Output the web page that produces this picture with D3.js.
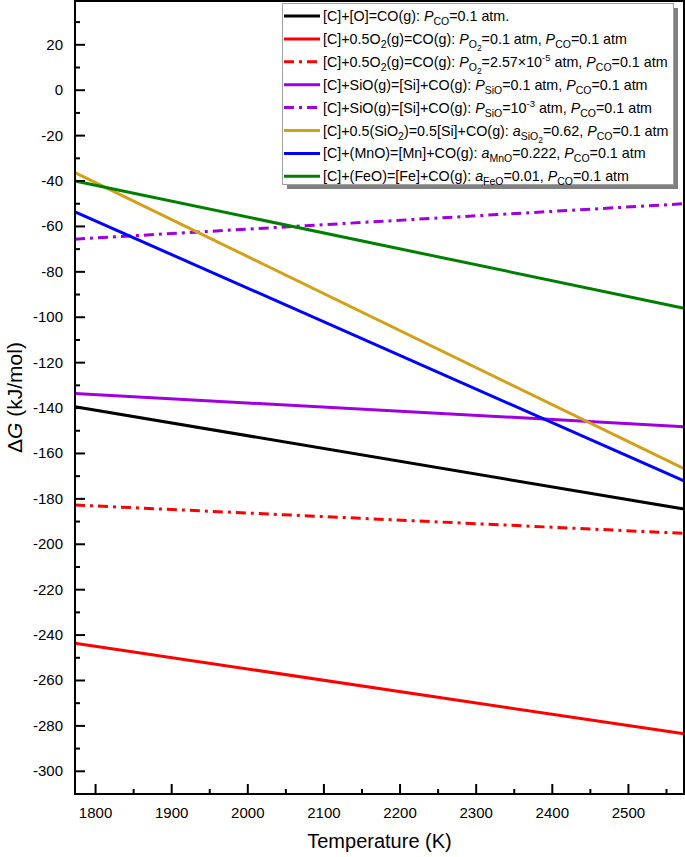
<!DOCTYPE html>
<meta charset="utf-8">
<script src="https://cdnjs.cloudflare.com/ajax/libs/d3/7.8.5/d3.min.js"></script>
<style>
body { margin: 0; background: #fff; }
svg text { font-family: "Liberation Sans", Arial, sans-serif; }
</style>
<body>
<script>

// data (endpoints of each straight line)
var temps = [1773, 2573];
var seriesNames = ["black", "redSolid", "redDash", "purpleSolid", "purpleDash", "gold", "blue", "green"];
var blackVals = [-139.4, -184.5];
var redSolidVals = [-243.6, -283.5];
var redDashVals = [-182.7, -195.2];
var purpleSolidVals = [-133.6, -148.2];
var purpleDashVals = [-65.6, -50.0];
var goldVals = [-36.3, -166.7];
var blueVals = [-53.6, -172.1];
var greenVals = [-40.0, -96.0];

var colors = ["#000000", "#ff0000", "#ff0000", "#a000dc", "#a000dc", "#d4a017", "#0000ff", "#008000"];
var dashed = [false, false, true, false, true, false, false, false];
var allVals = [blackVals, redSolidVals, redDashVals, purpleSolidVals, purpleDashVals, goldVals, blueVals, greenVals];

var xTicks = [1800, 1900, 2000, 2100, 2200, 2300, 2400, 2500];
var yTicks = [-300, -280, -260, -240, -220, -200, -180, -160, -140, -120, -100, -80, -60, -40, -20, 0, 20];

// legend labels: [text, kind] kind: n normal, i italic, s subscript, ss sub-subscript, p superscript
var legendLabels = [
  [["[C]+[O]=CO(g): ", "n"], ["P", "i"], ["CO", "s"], ["=0.1 atm.", "n"]],
  [["[C]+0.5O", "n"], ["2", "s"], ["(g)=CO(g): ", "n"], ["P", "i"], ["O", "s"], ["2", "ss"], ["=0.1 atm, ", "n"], ["P", "i"], ["CO", "s"], ["=0.1 atm", "n"]],
  [["[C]+0.5O", "n"], ["2", "s"], ["(g)=CO(g): ", "n"], ["P", "i"], ["O", "s"], ["2", "ss"], ["=2.57\u00d710", "n"], ["-5", "p"], [" atm, ", "n"], ["P", "i"], ["CO", "s"], ["=0.1 atm", "n"]],
  [["[C]+SiO(g)=[Si]+CO(g): ", "n"], ["P", "i"], ["SiO", "s"], ["=0.1 atm, ", "n"], ["P", "i"], ["CO", "s"], ["=0.1 atm", "n"]],
  [["[C]+SiO(g)=[Si]+CO(g): ", "n"], ["P", "i"], ["SiO", "s"], ["=10", "n"], ["-3", "p"], [" atm, ", "n"], ["P", "i"], ["CO", "s"], ["=0.1 atm", "n"]],
  [["[C]+0.5(SiO", "n"], ["2", "s"], [")=0.5[Si]+CO(g): ", "n"], ["a", "i"], ["SiO", "s"], ["2", "ss"], ["=0.62, ", "n"], ["P", "i"], ["CO", "s"], ["=0.1 atm", "n"]],
  [["[C]+(MnO)=[Mn]+CO(g): ", "n"], ["a", "i"], ["MnO", "s"], ["=0.222, ", "n"], ["P", "i"], ["CO", "s"], ["=0.1 atm", "n"]],
  [["[C]+(FeO)=[Fe]+CO(g): ", "n"], ["a", "i"], ["FeO", "s"], ["=0.01, ", "n"], ["P", "i"], ["CO", "s"], ["=0.1 atm", "n"]]
];

var margin = {top: 1, right: 1, bottom: 63, left: 75};

var svg = d3.select("body").append("svg")
    .attr("width", 685)
    .attr("height", 857);

var g = svg.append("g")
    .attr("transform", "translate(" + margin.left + "," + margin.top + ")");

var x = d3.scaleLinear().domain([1773, 2573]).range([0, 609]);
var y = d3.scaleLinear().domain([-310, 39.3]).range([793, 0]);

// lines
var line = d3.line()
    .x(function(d) { return x(d[0]); })
    .y(function(d) { return y(d[1]); });

allVals.forEach(function(vals, i) {
  g.append("path")
    .datum(temps.map(function(t, j) { return [t, vals[j]]; }))
    .attr("d", line)
    .attr("fill", "none")
    .attr("stroke", colors[i])
    .attr("stroke-width", 3)
    .attr("stroke-dasharray", dashed[i] ? "10,5,3,5" : null);
});

// frame
g.append("rect")
  .attr("x", 0).attr("y", 0)
  .attr("width", 609).attr("height", 793)
  .attr("fill", "none")
  .attr("stroke", "#000")
  .attr("stroke-width", 2);

// x axis ticks (inward)
var xMinor = d3.range(1850, 2573, 100);
g.selectAll(".xminor").data(xMinor).enter().append("line")
  .attr("x1", function(d) { return x(d); }).attr("x2", function(d) { return x(d); })
  .attr("y1", 793).attr("y2", 788)
  .attr("stroke", "#000").attr("stroke-width", 2);
g.selectAll(".xmajor").data(xTicks).enter().append("line")
  .attr("x1", function(d) { return x(d); }).attr("x2", function(d) { return x(d); })
  .attr("y1", 793).attr("y2", 783)
  .attr("stroke", "#000").attr("stroke-width", 2);
g.selectAll(".xlab").data(xTicks).enter().append("text")
  .attr("x", function(d) { return x(d); })
  .attr("y", 817)
  .attr("text-anchor", "middle")
  .attr("font-size", 15)
  .text(function(d) { return d; });

// y axis ticks (inward)
var yMinor = d3.range(-310, 39, 20);
g.selectAll(".yminor").data(yMinor).enter().append("line")
  .attr("x1", 0).attr("x2", 5)
  .attr("y1", function(d) { return y(d); }).attr("y2", function(d) { return y(d); })
  .attr("stroke", "#000").attr("stroke-width", 2);
g.selectAll(".ymajor").data(yTicks).enter().append("line")
  .attr("x1", 0).attr("x2", 10)
  .attr("y1", function(d) { return y(d); }).attr("y2", function(d) { return y(d); })
  .attr("stroke", "#000").attr("stroke-width", 2);
g.selectAll(".ylab").data(yTicks).enter().append("text")
  .attr("x", -12)
  .attr("y", function(d) { return y(d) + 5; })
  .attr("text-anchor", "end")
  .attr("font-size", 15)
  .text(function(d) { return d; });

// axis titles
svg.append("text")
  .attr("x", 75 + 609 / 2)
  .attr("y", 848)
  .attr("text-anchor", "middle")
  .attr("font-size", 20)
  .text("Temperature (K)");

var yt = svg.append("text")
  .attr("transform", "translate(22," + (1 + 793 / 2) + ") rotate(-90)")
  .attr("text-anchor", "middle")
  .attr("font-size", 21);
yt.append("tspan").text("\u0394");
yt.append("tspan").attr("font-style", "italic").text("G");
yt.append("tspan").text(" (kJ/mol)");

// legend
var lg = svg.append("g");
lg.append("rect")
  .attr("x", 287).attr("y", 8)
  .attr("width", 391).attr("height", 181)
  .attr("fill", "#808080");
lg.append("rect")
  .attr("x", 282.5).attr("y", 3.5)
  .attr("width", 391).attr("height", 181)
  .attr("fill", "#fff")
  .attr("stroke", "#a0a0a0")
  .attr("stroke-width", 1);

legendLabels.forEach(function(parts, i) {
  var ly = 16 + i * 22.9;
  lg.append("line")
    .attr("x1", 284).attr("x2", 320)
    .attr("y1", ly).attr("y2", ly)
    .attr("stroke", colors[i])
    .attr("stroke-width", 3)
    .attr("stroke-dasharray", dashed[i] ? "10,5,3,5" : null);
  var t = lg.append("text")
    .attr("x", 323)
    .attr("y", ly + 5)
    .attr("font-size", 14.3);
  var shift = 0;
  parts.forEach(function(p) {
    var s = t.append("tspan").text(p[0]);
    var target = 0, fs = 14.3;
    if (p[1] === "i") s.attr("font-style", "italic");
    if (p[1] === "s") { target = 4; fs = 10.5; }
    if (p[1] === "ss") { target = 7; fs = 8.5; }
    if (p[1] === "p") { target = -6; fs = 9.5; }
    s.attr("dy", target - shift).attr("font-size", fs);
    shift = target;
  });
  if (shift !== 0) t.append("tspan").attr("dy", -shift).text("");
});

</script>
</body>
</html>
